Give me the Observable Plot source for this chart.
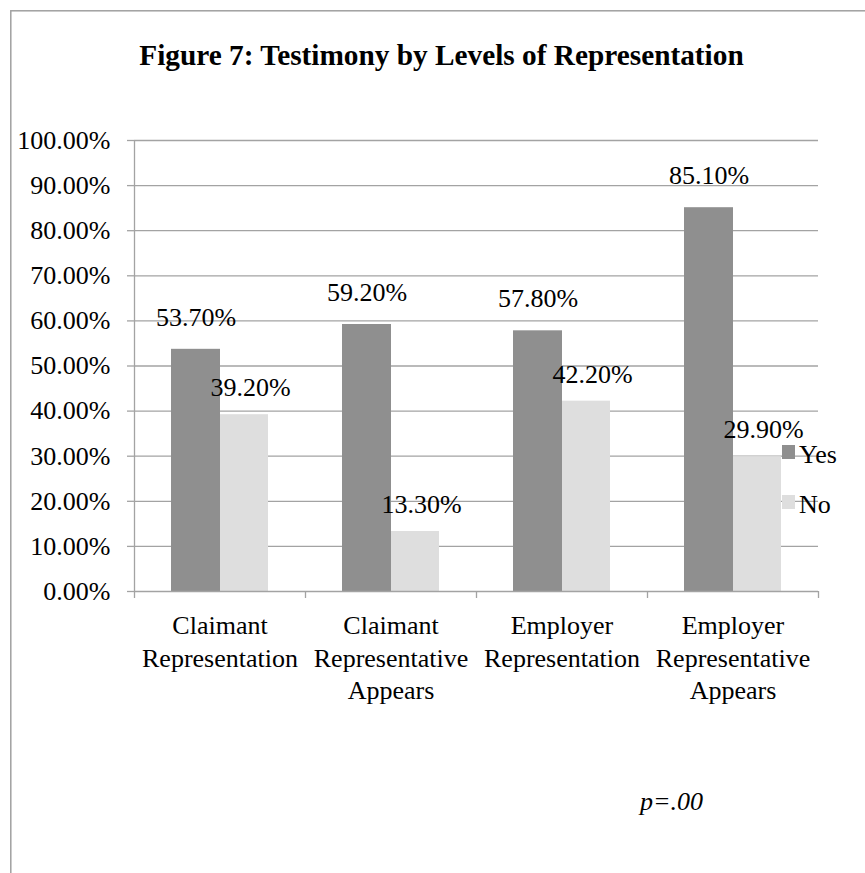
<!DOCTYPE html>
<html>
<head>
<meta charset="utf-8">
<script src="https://cdn.jsdelivr.net/npm/d3@7"></script>
<script src="https://cdn.jsdelivr.net/npm/@observablehq/plot@0.6"></script>
<style>
  body { margin: 0; background: #fff; }
  #chart svg { display: block; }
</style>
</head>
<body>
<div id="chart"></div>
<script>
// ---- data ----
const categories = [
  "Claimant Representation",
  "Claimant Representative Appears",
  "Employer Representation",
  "Employer Representative Appears"
];
const categoryLabels = [
  "Claimant\nRepresentation",
  "Claimant\nRepresentative\nAppears",
  "Employer\nRepresentation",
  "Employer\nRepresentative\nAppears"
];
const series = ["Yes", "No"];
const yesValues = [53.7, 59.2, 57.8, 85.1];
const noValues = [39.2, 13.3, 42.2, 29.9];
const yTicks = [0, 10, 20, 30, 40, 50, 60, 70, 80, 90, 100];
const titleText = "Figure 7: Testimony by Levels of Representation";
const noteText = "p=.00";

const yesData = categories.map((c, i) => ({category: c, series: "Yes", value: yesValues[i]}));
const noData = categories.map((c, i) => ({category: c, series: "No", value: noValues[i]}));
const labelOf = Object.fromEntries(categories.map((c, i) => [c, categoryLabels[i]]));

// ---- style ----
const font = "'Liberation Serif', 'Times New Roman', serif";
const gridColor = "#a3a3a3";
const colors = ["#8f8f8f", "#dedede"];
const W = 865, H = 873;
const mL = 134, mR = 47, mT = 140, mB = 282;
const band = (W - mL - mR) / categories.length;

const chart = Plot.plot({
  width: W,
  height: H,
  marginLeft: mL,
  marginRight: mR,
  marginTop: mT,
  marginBottom: mB,
  style: {fontFamily: font, fontSize: "26px", color: "#000", background: "#fff", overflow: "visible"},
  x: {domain: categories, padding: 0, axis: null},
  y: {domain: [0, 100], axis: null},
  color: {domain: series, range: colors},
  marks: [
    Plot.gridY(yTicks.filter(d => d > 0), {stroke: gridColor, strokeOpacity: 1, strokeWidth: 1.3}),
    Plot.barY(yesData, {x: "category", y: "value", fill: "series", insetLeft: 37, insetRight: band - 86}),
    Plot.barY(noData, {x: "category", y: "value", fill: "series", insetLeft: 86, insetRight: band - 134}),
    Plot.ruleY([0], {stroke: gridColor, strokeWidth: 1.3}),
    Plot.ruleX([categories[0]], {y1: 0, y2: 100, dx: -band / 2, stroke: gridColor, strokeWidth: 1.3}),
    Plot.ruleX(categories, {y1: 0, y2: -1.55, dx: -band / 2, stroke: gridColor, strokeWidth: 1.3}),
    Plot.ruleX([categories[categories.length - 1]], {y1: 0, y2: -1.55, dx: band / 2, stroke: gridColor, strokeWidth: 1.3}),
    Plot.axisY(yTicks, {
      tickSize: 7, tickPadding: 17, stroke: gridColor, strokeWidth: 1.3,
      tickFormat: d => d.toFixed(2) + "%", fontSize: 26, fill: "#000", label: null
    }),
    Plot.text(yesData, {x: "category", y: "value", text: d => d.value.toFixed(2) + "%", dx: -24, dy: -32, fontSize: 26, fill: "#000"}),
    Plot.text(noData, {x: "category", y: "value", text: d => d.value.toFixed(2) + "%", dx: 30.5, dy: -27, fontSize: 26, fill: "#000"}),
    Plot.text(categories, {
      x: d => d, frameAnchor: "bottom", text: d => labelOf[d],
      lineAnchor: "top", dy: 19.5, lineHeight: 1.25, fontSize: 26, fill: "#000"
    })
  ]
});

document.getElementById("chart").appendChild(chart);

// ---- decorations: outer frame, title, legend, note ----
const svg = d3.select(chart);
svg.insert("rect", ":first-child")
  .attr("x", 10.8).attr("y", 10.8).attr("width", W + 20).attr("height", H + 20)
  .attr("fill", "none").attr("stroke", "#a0a0a0").attr("stroke-width", 1.5);

svg.append("text")
  .attr("x", 441.5).attr("y", 65)
  .attr("text-anchor", "middle")
  .attr("font-family", font).attr("font-weight", "bold").attr("font-size", 29.3)
  .attr("fill", "#000")
  .text(titleText);

const legend = svg.append("g").attr("font-family", font).attr("font-size", 26)
  .attr("fill", "#000").attr("text-anchor", "start");
series.forEach((s, i) => {
  legend.append("rect").attr("x", 782).attr("y", 445 + i * 50).attr("width", 13).attr("height", 14).attr("fill", colors[i]);
  legend.append("text").attr("x", 799).attr("y", 463 + i * 50).text(s);
});

svg.append("text")
  .attr("x", 640).attr("y", 810)
  .attr("text-anchor", "start")
  .attr("font-family", font).attr("font-style", "italic").attr("font-size", 26)
  .attr("fill", "#000")
  .text(noteText);
</script>
</body>
</html>
